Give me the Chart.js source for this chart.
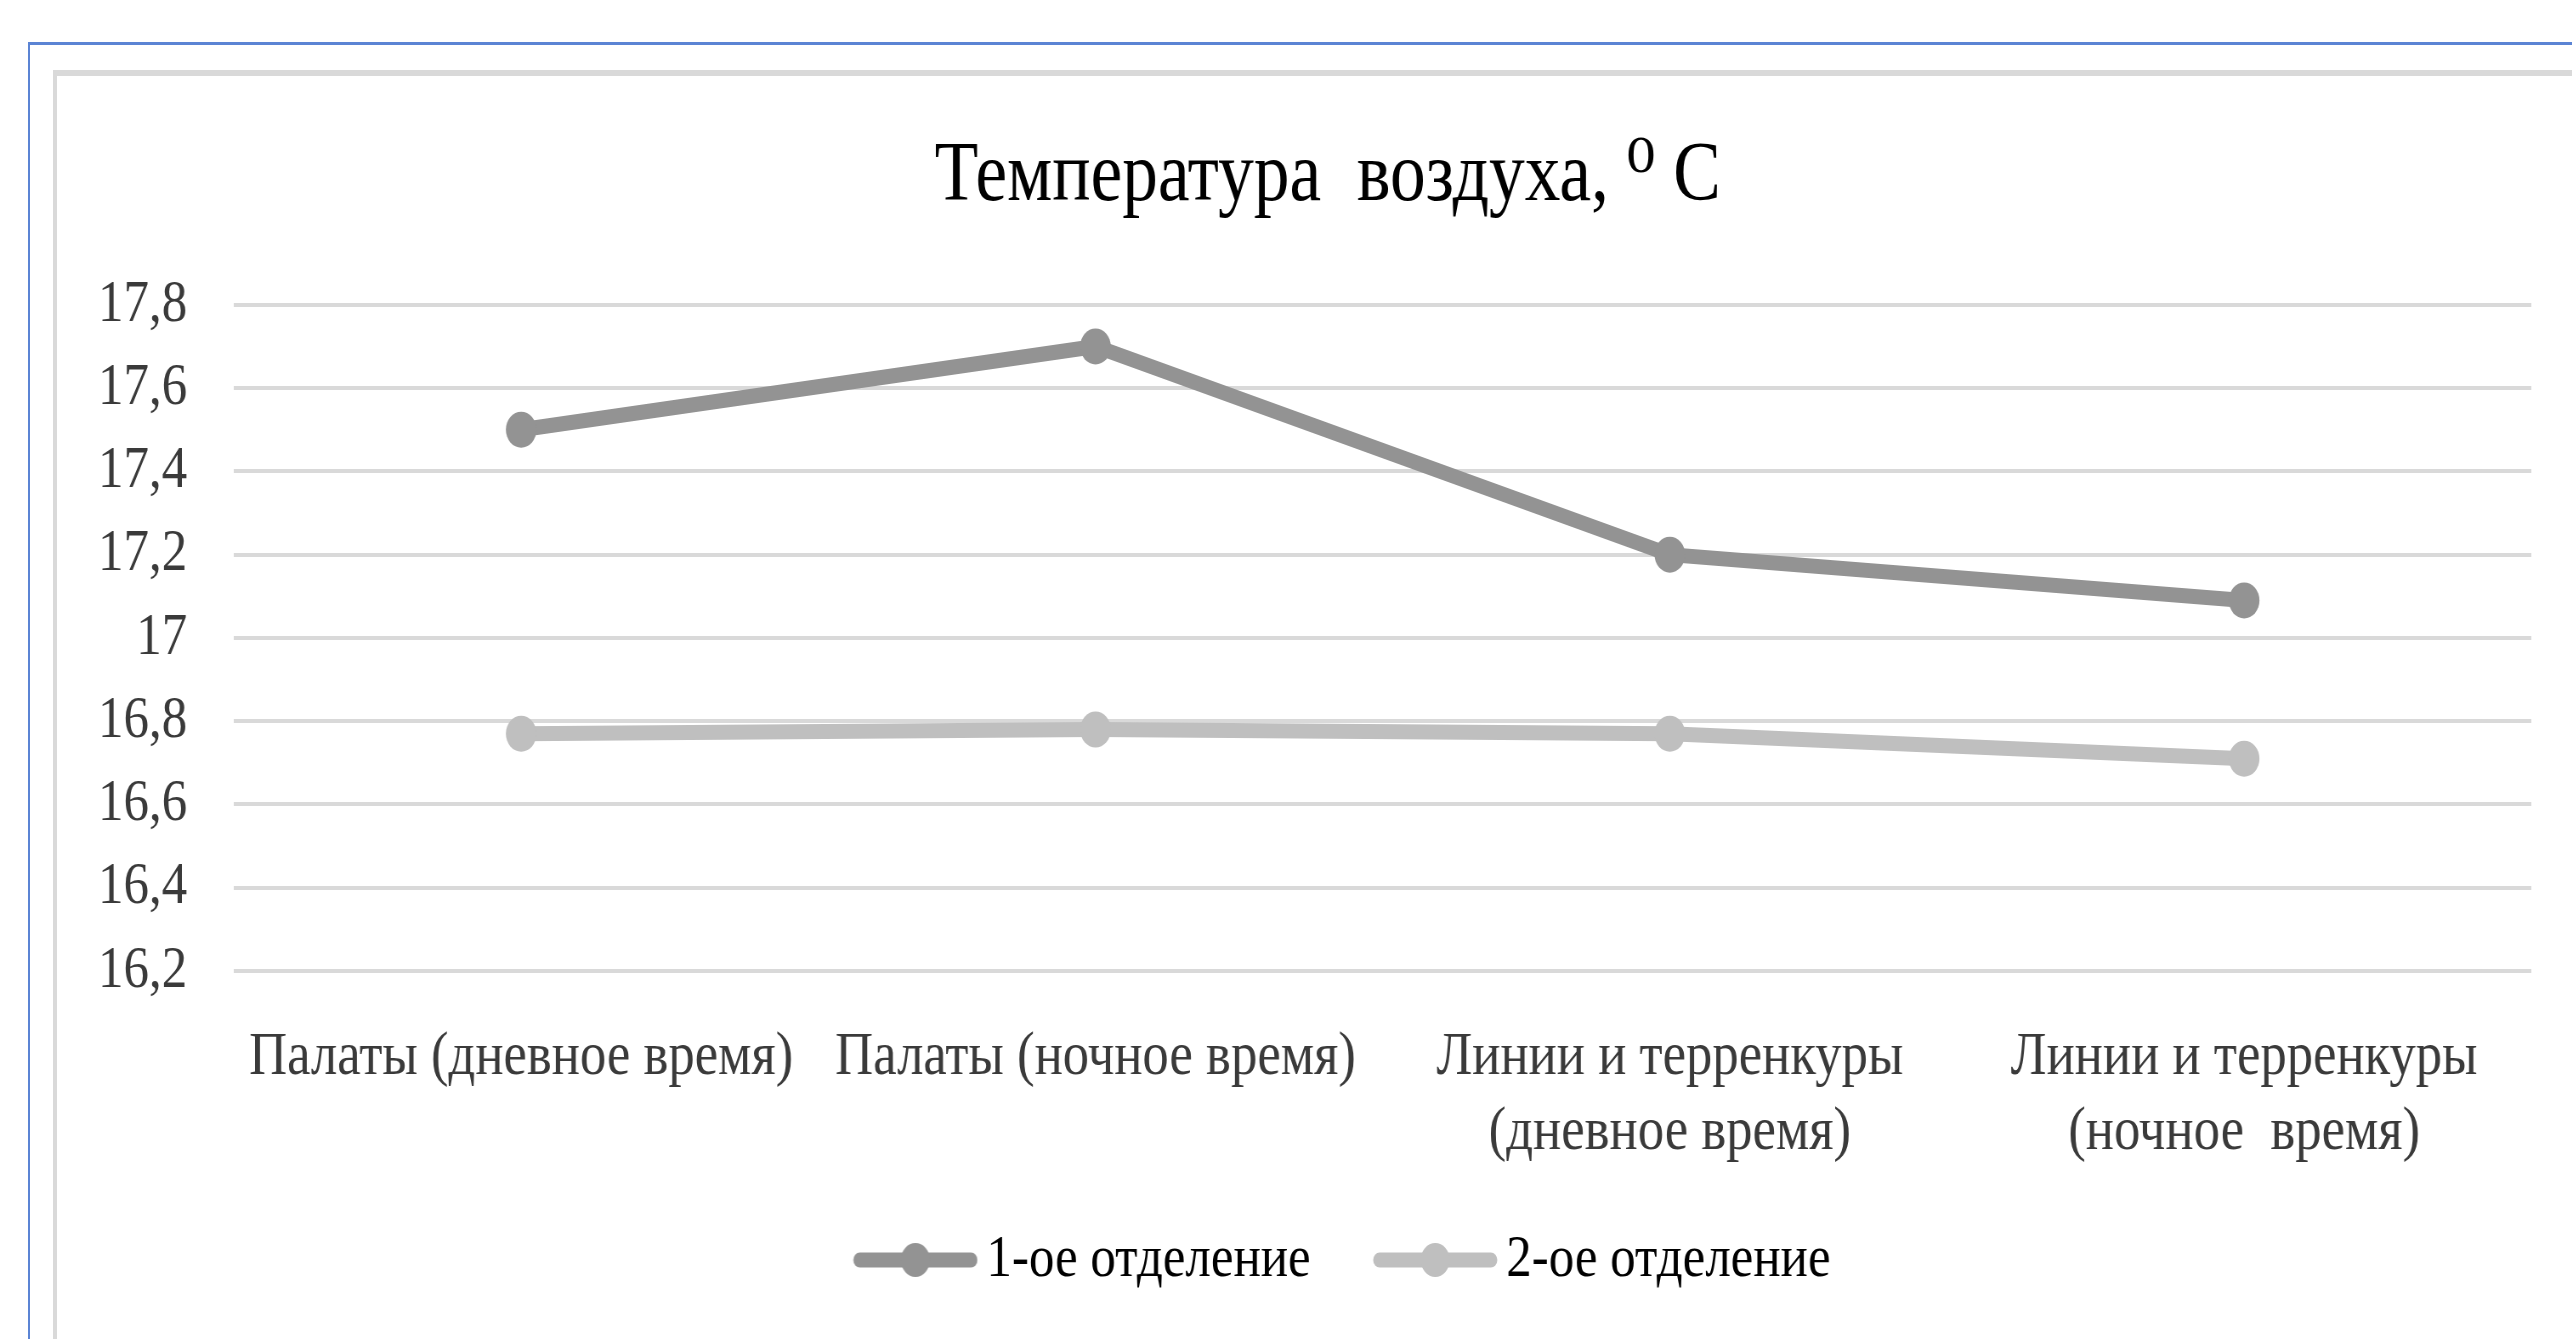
<!DOCTYPE html>
<html>
<head>
<meta charset="utf-8">
<script src="https://cdn.jsdelivr.net/npm/chart.js@4.4.1/dist/chart.umd.min.js"></script>
<style>
  html, body { margin: 0; padding: 0; background: #fff; width: 2572px; height: 1339px; overflow: hidden; position: relative; }
  #blue { position: absolute; left: 28px; top: 42px; width: 2700px; height: 1500px; border-left: 2px solid #5b84d4; border-top: 3px solid #5b84d4; box-sizing: border-box; }
  #gray { position: absolute; left: 53px; top: 70px; width: 2700px; height: 1500px; border-left: 4px solid #d9d9d9; border-top: 6px solid #d9d9d9; box-sizing: border-box; }
  #wrap { position: absolute; left: 0; top: 0; width: 3129px; height: 1339px; transform: scaleX(0.85); transform-origin: 0 0; }
</style>
</head>
<body>
<div id="blue"></div>
<div id="gray"></div>
<div id="wrap"><canvas id="c"></canvas></div>
<script>
// ---- data ----
const categories = [
  "Палаты (дневное время)",
  "Палаты (ночное время)",
  ["Линии и терренкуры", "(дневное время)"],
  ["Линии и терренкуры", "(ночное  время)"]
];
const seriesNames = ["1-ое отделение", "2-ое отделение"];
const dept1 = [17.5, 17.7, 17.2, 17.09];
const dept2 = [16.77, 16.78, 16.77, 16.71];
const yMin = 16.2;
const yMax = 17.8;
const yStep = 0.2;
const yTickLabels = ["16,2", "16,4", "16,6", "16,8", "17", "17,2", "17,4", "17,6", "17,8"];
const titleText = "Температура  воздуха, \u2070 C";

// ---- styles ----
const colors = ["#939393", "#bfbfbf"];
const SERIF = "'Liberation Serif', 'DejaVu Serif', 'Times New Roman', serif";
const Y_FONT = 60;
const Y_GAP = 55;

const mctx = document.createElement('canvas').getContext('2d');
mctx.font = Y_FONT + 'px ' + SERIF;
const widestY = Math.max(...yTickLabels.map(t => mctx.measureText(t).width));

function legendImage(color) {
  const c = document.createElement('canvas');
  c.width = 200; c.height = 40;
  const x = c.getContext('2d');
  x.strokeStyle = color;
  x.lineWidth = 15;
  x.lineCap = 'round';
  x.beginPath(); x.moveTo(61, 20); x.lineTo(192, 20); x.stroke();
  x.fillStyle = color;
  x.beginPath(); x.arc(126.5, 20, 17, 0, Math.PI * 2); x.fill();
  return c;
}
const legendImgs = colors.map(legendImage);

Chart.defaults.font.family = SERIF;

new Chart(document.getElementById('c'), {
  type: 'line',
  data: {
    labels: categories,
    datasets: [
      { label: seriesNames[0], data: dept1, borderColor: colors[0], backgroundColor: colors[0],
        borderWidth: 15, pointRadius: 18, pointHoverRadius: 18, pointBorderWidth: 0,
        pointBackgroundColor: colors[0], tension: 0 },
      { label: seriesNames[1], data: dept2, borderColor: colors[1], backgroundColor: colors[1],
        borderWidth: 15, pointRadius: 18, pointHoverRadius: 18, pointBorderWidth: 0,
        pointBackgroundColor: colors[1], tension: 0 }
    ]
  },
  options: {
    responsive: true,
    maintainAspectRatio: false,
    devicePixelRatio: 1,
    animation: false,
    events: [],
    layout: { padding: { top: 0, left: 146, right: 151, bottom: 39 } },
    plugins: {
      tooltip: { enabled: false },
      title: {
        display: true, text: titleText, color: '#000',
        font: { family: SERIF, size: 84, weight: 'normal' },
        padding: { top: 128, bottom: 76 }
      },
      legend: {
        position: 'bottom',
        labels: {
          usePointStyle: true,
          pointStyleWidth: 160,
          boxHeight: 60,
          padding: 40,
          color: '#000',
          font: { family: SERIF, size: 60 },
          generateLabels: (chart) => {
            const items = Chart.defaults.plugins.legend.labels.generateLabels(chart);
            items.forEach((it, i) => { it.pointStyle = legendImgs[i]; });
            return items;
          }
        }
      }
    },
    scales: {
      x: {
        offset: true,
        grid: { display: false, drawTicks: false },
        border: { display: false },
        ticks: { color: '#3a3a3a', font: { family: SERIF, size: 62 }, padding: 50,
                 maxRotation: 0, minRotation: 0, autoSkip: false },
        afterFit: (s) => { s.height = 219; }
      },
      y: {
        min: yMin, max: yMax,
        grid: { color: '#d9d9d9', lineWidth: 4, drawTicks: false },
        border: { display: false },
        ticks: { stepSize: yStep, color: '#3a3a3a', font: { family: SERIF, size: Y_FONT },
                 mirror: true, crossAlign: 'far', padding: -(Y_GAP + widestY),
                 callback: (v, i) => yTickLabels[i] },
        afterFit: (s) => { s.width = 129.3; }
      }
    }
  }
});
</script>
</body>
</html>
